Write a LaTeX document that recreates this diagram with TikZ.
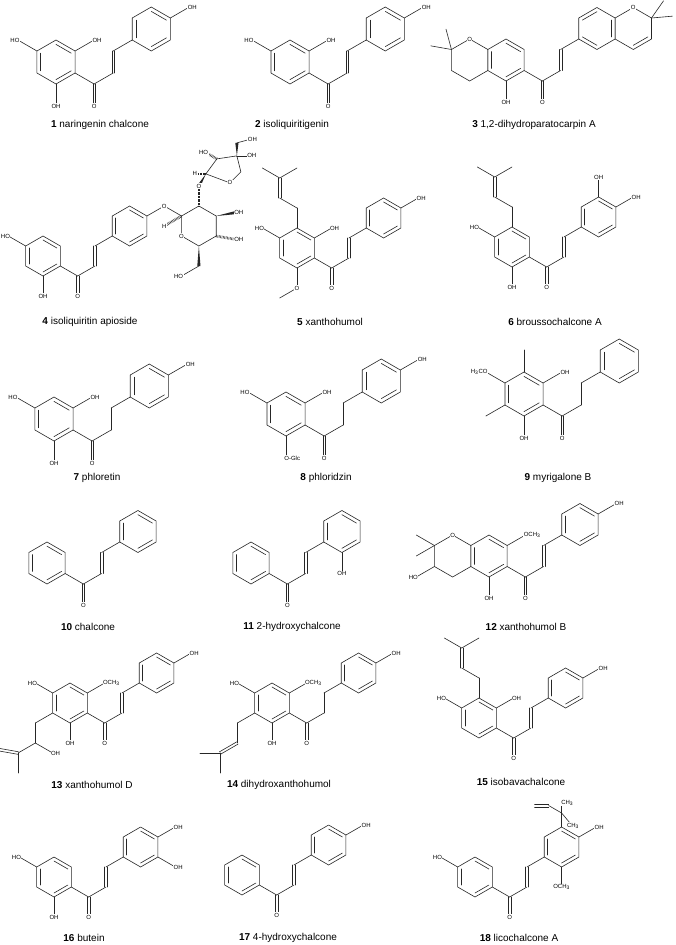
\documentclass[tikz,border=0pt]{standalone}
\usepackage{fontspec}
\setmainfont{Liberation Sans}
\usetikzlibrary{calc}
\tikzset{bondst/.style={line width=0.6pt, draw=black!85, line cap=round, line join=round},
 lbl/.style={font=\fontsize{6}{6}\selectfont, fill=white, inner sep=0.5pt},
 toR/.style={anchor=west, xshift=-2.3pt}, toL/.style={anchor=east, xshift=2.3pt},
 captext/.style={font=\fontsize{10}{12}\selectfont, inner sep=0pt}}
\newcommand\BL{22}
\newcommand\ringc[2]{\coordinate (#1) at #2;
 \foreach \i/\ang in {1/90,2/30,3/-30,4/-90,5/-150,6/150}{\coordinate (#1-\i) at ($(#1)+(\ang:\BL pt)$);}
 \draw[bondst] (#1-1)--(#1-2)--(#1-3)--(#1-4)--(#1-5)--(#1-6)--cycle;}
\newcommand\inl[3]{\draw[bondst] ($(#2)!0.2!(#1)$)--($(#3)!0.2!(#1)$);}
\newcommand\aromA[1]{\inl{#1}{#1-1}{#1-2}\inl{#1}{#1-3}{#1-4}\inl{#1}{#1-5}{#1-6}}
\newcommand\aromB[1]{\inl{#1}{#1-2}{#1-3}\inl{#1}{#1-4}{#1-5}\inl{#1}{#1-6}{#1-1}}
\newcommand\atm[3]{\coordinate (#1) at ($(#2)+(#3:\BL pt)$);}
\newcommand\bd[2]{\draw[bondst] (#1)--(#2);}
\newcommand\dbd[2]{\draw[bondst] ($(#1)!1.3pt!90:(#2)$)--($(#2)!1.3pt!-90:(#1)$); \draw[bondst] ($(#1)!1.3pt!-90:(#2)$)--($(#2)!1.3pt!90:(#1)$);}
\newcommand\subs[5]{\atm{#1}{#2}{#3}\bd{#2}{#1}\node[lbl,#4] at (#1) {#5};}
\newcommand\wdg[2]{\fill[black!85] (#1) -- ($(#2)!1.6pt!90:(#1)$) -- ($(#2)!1.6pt!-90:(#1)$) -- cycle;}
\newcommand\hsh[2]{\draw[black!85, line width=2.6pt, dash pattern=on 0.5pt off 0.9pt] (#1)--(#2);}
\newcommand\chainx[2]{\atm{#1c}{#1A-3}{-30}\atm{#1o}{#1c}{-90}\atm{#1a}{#1c}{30}\atm{#1b}{#1a}{90}\atm{#1v}{#1b}{30}
 \bd{#1A-3}{#1c}\dbd{#1c}{#1o}\bd{#1c}{#1a}
 \ifnum#2=1 \dbd{#1a}{#1b}\else\bd{#1a}{#1b}\fi
 \bd{#1b}{#1v}\node[lbl] at (#1o) {O};
 \ringc{#1B}{($(#1v)+(30:\BL pt)$)}}
\newcommand\prenyl[2]{\atm{#11}{#2}{90}\atm{#12}{#11}{150}\atm{#13}{#12}{90}\atm{#14}{#13}{150}\atm{#15}{#13}{30}
 \bd{#2}{#11}\bd{#11}{#12}\dbd{#12}{#13}\bd{#13}{#14}\bd{#13}{#15}}
\begin{document}
\begin{tikzpicture}[x=1pt,y=1pt]
\fill[white] (0,0) rectangle (675,-945);
\useasboundingbox (0,0) rectangle (675,-945);
% ---------- 1
\renewcommand\BL{22}
\ringc{aA}{(56,-62)}\aromA{aA}\chainx{a}{1}\aromA{aB}
\subs{a1}{aA-2}{30}{toR}{OH}\subs{a2}{aA-6}{150}{toL}{HO}\subs{a3}{aA-4}{-90}{}{OH}\subs{a4}{aB-2}{30}{toR}{OH}
\node[captext] (c1) at (100,-125) {\textbf{1} naringenin chalcone};
% ---------- 2
\ringc{bA}{(290,-62)}\aromA{bA}\chainx{b}{1}\aromA{bB}
\subs{b1}{bA-2}{30}{toR}{OH}\subs{b2}{bA-6}{150}{toL}{HO}\subs{b4}{bB-2}{30}{toR}{OH}
\node[captext] (c2) at (292,-125) {\textbf{2} isoliquiritigenin};
% ---------- 3
\renewcommand\BL{21}
\ringc{cA}{(506,-60)}\aromA{cA}
\ringc{cC}{($(cA)+(180:36.37pt)$)}
\atm{cm1}{cC-6}{170}\atm{cm2}{cC-6}{105}\bd{cC-6}{cm1}\bd{cC-6}{cm2}
\node[lbl] at (cC-1) {O};
\chainx{c}{1}\aromB{cB}
\ringc{cP}{($(cB)+(0:36.37pt)$)}\inl{cP}{cP-3}{cP-4}
\atm{cn1}{cP-2}{55}\atm{cn2}{cP-2}{5}\bd{cP-2}{cn1}\bd{cP-2}{cn2}
\node[lbl] at (cP-1) {O};
\subs{c5}{cA-4}{-90}{}{OH}
\node[captext] (c3) at (534,-125) {\textbf{3} 1,2-dihydroparatocarpin A};
% ---------- 4
\renewcommand\BL{20}
\ringc{dA}{(43,-256)}\aromA{dA}\chainx{d}{1}\aromA{dB}
\subs{d1}{dA-6}{150}{toL}{HO}\subs{d2}{dA-4}{-90}{}{OH}
\atm{dO}{dB-2}{30}\bd{dB-2}{dO}
\ringc{dS}{($(dO)+(-30:40pt)$)}
\bd{dO}{dS-6}
\atm{dH}{dS-6}{-150}\hsh{dS-6}{dH}
\atm{dO2}{dS-1}{90}\hsh{dS-1}{dO2}
\atm{d3}{dS-2}{10}\wdg{dS-2}{d3}
\atm{d4}{dS-3}{-10}\hsh{dS-3}{d4}
\atm{d5}{dS-4}{-90}\wdg{dS-4}{d5}\atm{d6}{d5}{-150}\bd{d5}{d6}
\coordinate (dC1) at ($(dO2)+(60:14pt)$);
\coordinate (dOp) at ($(dC1)+(24pt,-9pt)$);
\coordinate (dCH) at ($(dC1)+(35pt,2pt)$);
\coordinate (dC3) at ($(dC1)+(31pt,18pt)$);
\coordinate (dC2) at ($(dC1)+(11pt,15pt)$);
\draw[bondst] (dC1)--(dOp)--(dCH)--(dC3)--(dC2)--(dC1);
\wdg{dC1}{dO2}
\coordinate (dH2) at ($(dC1)+(180:11pt)$);\hsh{dC1}{dH2}
\coordinate (dHO) at ($(dC2)+(150:12pt)$);\hsh{dC2}{dHO}
\coordinate (dOH3) at ($(dC3)+(0:12pt)$);\bd{dC3}{dOH3}
\coordinate (dCH2) at ($(dC3)+(90:13pt)$);\wdg{dC3}{dCH2}
\coordinate (dOH4) at ($(dCH2)+(15:13pt)$);\bd{dCH2}{dOH4}
\node[lbl] at (dO) {O};\node[lbl] at (dS-5) {O};\node[lbl] at (dO2) {O};\node[lbl] at (dOp) {O};
\node[lbl] at (dH) {H};\node[lbl] at (dH2) {H};
\node[lbl,toR] at (d3) {OH};\node[lbl,toR] at (d4) {OH};\node[lbl,toL] at (d6) {HO};
\node[lbl,toL] at (dHO) {HO};\node[lbl,toR] at (dOH3) {OH};\node[lbl,toR] at (dOH4) {OH};
\node[captext] (c4) at (90,-322) {\textbf{4} isoliquiritin apioside};
% ---------- 5
\ringc{eA}{(297,-248)}\aromA{eA}\prenyl{e}{eA-1}\chainx{e}{1}\aromA{eB}
\atm{eo}{eA-4}{-90}\atm{em}{eo}{-150}\bd{eA-4}{eo}\bd{eo}{em}\node[lbl] at (eo) {O};
\subs{e6}{eA-6}{150}{toL}{HO}\subs{e7}{eA-2}{30}{toR}{OH}\subs{e8}{eB-2}{30}{toR}{OH}
\node[captext] (c5) at (330,-322) {\textbf{5} xanthohumol};
% ---------- 6
\ringc{fA}{(512,-247)}\aromA{fA}\prenyl{f}{fA-1}\chainx{f}{1}\aromA{fB}
\subs{f6}{fA-6}{150}{toL}{HO}\subs{f7}{fA-4}{-90}{}{OH}\subs{f8}{fB-1}{90}{}{OH}\subs{f9}{fB-2}{30}{toR}{OH}
\node[captext] (c6) at (555,-322) {\textbf{6} broussochalcone A};
% ---------- 7
\renewcommand\BL{22}
\ringc{gA}{(54,-419)}\aromA{gA}\chainx{g}{0}\aromA{gB}
\subs{g1}{gA-6}{150}{toL}{HO}\subs{g2}{gA-2}{30}{toR}{OH}\subs{g3}{gA-4}{-90}{}{OH}\subs{g4}{gB-2}{30}{toR}{OH}
\node[captext] (c7) at (97,-478) {\textbf{7} phloretin};
% ---------- 8
\ringc{hA}{(286,-414)}\aromA{hA}\chainx{h}{0}\aromA{hB}
\subs{h1}{hA-6}{150}{toL}{HO}\subs{h2}{hA-2}{30}{toR}{OH}\subs{h3}{hA-4}{-90}{toR}{O-Glc}\subs{h4}{hB-2}{30}{toR}{OH}
\node[captext] (c8) at (326,-478) {\textbf{8} phloridzin};
% ---------- 9
\ringc{iA}{(524,-394)}\aromA{iA}\chainx{i}{0}\aromA{iB}
\atm{im1}{iA-1}{90}\bd{iA-1}{im1}\atm{im2}{iA-5}{-150}\bd{iA-5}{im2}
\subs{i1}{iA-6}{150}{toL}{H\textsubscript{3}CO}\subs{i2}{iA-2}{30}{toR}{OH}\subs{i3}{iA-4}{-90}{}{OH}
\node[captext] (c9) at (558,-478) {\textbf{9} myrigalone B};
% ---------- 10
\renewcommand\BL{21}
\ringc{jA}{(47,-563)}\aromA{jA}\chainx{j}{1}\aromA{jB}
\node[captext] (c10) at (88,-627) {\textbf{10} chalcone};
% ---------- 11
\ringc{kA}{(251,-563)}\aromA{kA}\chainx{k}{1}\aromA{kB}
\subs{k1}{kB-4}{-90}{}{OH}
\node[captext] (c11) at (292,-627) {\textbf{11} 2-hydroxychalcone};
% ---------- 12
\ringc{lA}{(489,-556)}\aromA{lA}
\ringc{lC}{($(lA)+(180:36.37pt)$)}
\atm{lm1}{lC-6}{150}\atm{lm2}{lC-6}{-150}\bd{lC-6}{lm1}\bd{lC-6}{lm2}
\node[lbl] at (lC-1) {O};
\subs{l5}{lC-5}{-150}{toL}{HO}
\chainx{l}{1}\aromA{lB}
\subs{l1}{lA-2}{30}{toR}{OCH\textsubscript{3}}\subs{l2}{lA-4}{-90}{}{OH}\subs{l3}{lB-2}{30}{toR}{OH}
\node[captext] (c12) at (526,-627) {\textbf{12} xanthohumol B};
% ---------- 13
\renewcommand\BL{20}
\ringc{mA}{(70,-703)}\aromA{mA}\chainx{m}{1}\aromA{mB}
\atm{m1}{mA-5}{-150}\atm{m2}{m1}{-90}\atm{m3}{m2}{-150}\atm{m4}{m3}{170}\atm{m5}{m3}{-90}
\bd{mA-5}{m1}\bd{m1}{m2}\bd{m2}{m3}\dbd{m3}{m4}\bd{m3}{m5}
\subs{m6}{m2}{-30}{toR}{OH}
\subs{m7}{mA-6}{150}{toL}{HO}\subs{m8}{mA-2}{30}{toR}{OCH\textsubscript{3}}\subs{m9}{mA-4}{-90}{}{OH}\subs{m10}{mB-2}{30}{toR}{OH}
\node[captext] (c13) at (92,-785) {\textbf{13} xanthohumol D};
% ---------- 14
\ringc{nA}{(272,-703)}\aromA{nA}\chainx{n}{0}\aromA{nB}
\atm{n1}{nA-5}{-150}\atm{n2}{n1}{-90}\atm{n3}{n2}{-150}\atm{n4}{n3}{180}\atm{n5}{n3}{-90}
\bd{nA-5}{n1}\bd{n1}{n2}\dbd{n2}{n3}\bd{n3}{n4}\bd{n3}{n5}
\subs{n7}{nA-6}{150}{toL}{HO}\subs{n8}{nA-2}{30}{toR}{OCH\textsubscript{3}}\subs{n9}{nA-4}{-90}{}{OH}\subs{n10}{nB-2}{30}{toR}{OH}
\node[captext] (c14) at (279,-785) {\textbf{14} dihydroxanthohumol};
% ---------- 15
\ringc{oA}{(479,-718)}\aromA{oA}\prenyl{o}{oA-1}\chainx{o}{1}\aromA{oB}
\subs{o6}{oA-6}{150}{toL}{HO}\subs{o7}{oA-2}{30}{toR}{OH}\subs{o8}{oB-2}{30}{toR}{OH}
\node[captext] (c15) at (521,-782) {\textbf{15} isobavachalcone};
% ---------- 16
\ringc{pA}{(54,-877)}\aromA{pA}\chainx{p}{1}\aromA{pB}
\subs{p1}{pA-6}{150}{toL}{HO}\subs{p2}{pA-4}{-90}{}{OH}\subs{p3}{pB-2}{30}{toR}{OH}\subs{p4}{pB-3}{-30}{toR}{OH}
\node[captext] (c16) at (84,-938) {\textbf{16} butein};
% ---------- 17
\ringc{qA}{(242,-875)}\aromA{qA}\chainx{q}{1}\aromA{qB}
\subs{q1}{qB-2}{30}{toR}{OH}
\node[captext] (c17) at (288,-938) {\textbf{17} 4-hydroxychalcone};
% ---------- 18
\ringc{rA}{(475,-877)}\aromA{rA}\chainx{r}{1}\aromA{rB}
\subs{r7}{rA-6}{150}{toL}{HO}\subs{r8}{rB-2}{30}{toR}{OH}\subs{r9}{rB-4}{-90}{}{OCH\textsubscript{3}}
\coordinate (r1) at ($(rB-1)+(90:14pt)$);\bd{rB-1}{r1}
\coordinate (r2) at ($(r1)+(90:10pt)$);\bd{r1}{r2}
\coordinate (r3) at ($(r1)+(-50:12pt)$);\bd{r1}{r3}
\coordinate (r4) at ($(r1)+(150:15pt)$);\bd{r1}{r4}
\coordinate (r5) at ($(r4)+(180:14pt)$);\dbd{r4}{r5}
\node[lbl,anchor=west,xshift=-1pt] at (r2) {CH\textsubscript{3}};
\node[lbl,anchor=north west,xshift=-3pt] at (r3) {CH\textsubscript{3}};
\node[captext] (c18) at (519,-938) {\textbf{18} licochalcone A};
\end{tikzpicture}
\end{document}
